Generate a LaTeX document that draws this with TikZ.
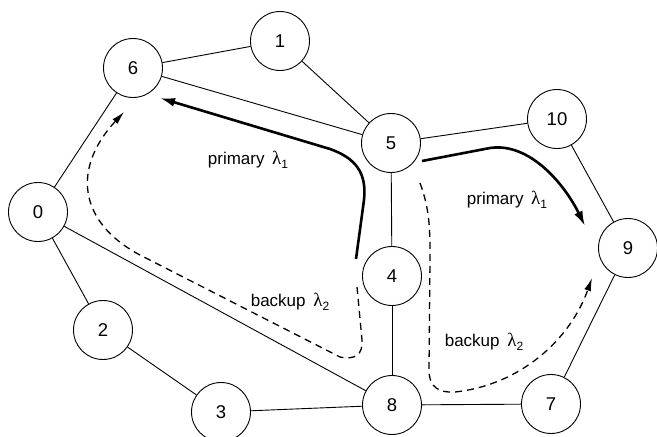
\documentclass[tikz,border=0pt]{standalone}
\usepackage{fontspec}
\setmainfont{Liberation Sans}
\newfontfamily\mylamfont{Liberation Serif}
\usetikzlibrary{arrows.meta}
\newcommand\mylam[1]{{\mylamfont\fontsize{19}{20}\selectfont λ}\raisebox{-0.45ex}{\fontsize{12}{14}\selectfont #1}}
\begin{document}
\begin{tikzpicture}[x=1pt,y=-1pt,
  nd/.style={circle,draw,line width=0.9pt,minimum size=59pt,inner sep=0pt,font=\fontsize{18.5}{20}\selectfont},
  edge/.style={line width=0.9pt},
  prim/.style={line width=2.6pt,-{Latex[length=15pt,width=9pt]}},
  bkp/.style={line width=1.3pt,dash pattern=on 7pt off 5pt,-{Latex[length=13pt,width=7pt]}},
  lbl/.style={font=\fontsize{17}{20}\selectfont}]
\useasboundingbox (0,0) rectangle (657,437);
\node[nd] (n0) at (38,212) {0};
\node[nd] (n1) at (280,41) {1};
\node[nd] (n2) at (103,330) {2};
\node[nd] (n3) at (221,412) {3};
\node[nd] (n4) at (392,276) {4};
\node[nd] (n5) at (391,143) {5};
\node[nd] (n6) at (133,68) {6};
\node[nd] (n7) at (551,404) {7};
\node[nd] (n8) at (392,405) {8};
\node[nd] (n9) at (628,248) {9};
\node[nd] (n10) at (557,119) {10};
\draw[edge] (n6) -- (n1);
\draw[edge] (n1) -- (n5);
\draw[edge] (n6) -- (n5);
\draw[edge] (n5) -- (n10);
\draw[edge] (n10) -- (n9);
\draw[edge] (n9) -- (n7);
\draw[edge] (n7) -- (n8);
\draw[edge] (n8) -- (n3);
\draw[edge] (n3) -- (n2);
\draw[edge] (n2) -- (n0);
\draw[edge] (n0) -- (n6);
\draw[edge] (n0) -- (n8);
\draw[edge] (n5) -- (n4);
\draw[edge] (n4) -- (n8);
% primary left
\coordinate (pa) at (356,259);
\coordinate (pb) at (160,98);
\draw[prim] (pa) -- (364,200) .. controls (367,172) and (355,158) .. (330,149) -- (pb);
% primary right
\coordinate (pc) at (422,161);
\coordinate (pd) at (585,226);
\draw[prim] (pc) -- (490,148) .. controls (530,142) and (565,185) .. (pd);
% backup left
\coordinate (ba) at (357,287);
\coordinate (bb) at (124,112);
\draw[bkp] (ba) -- (362,340) .. controls (363,355) and (355,360) .. (340,357) -- (140,255) .. controls (78,222) and (72,168) .. (bb);
% backup right
\coordinate (bc) at (420,183);
\coordinate (bd) at (592,278);
\draw[bkp] (bc) .. controls (430,210) and (430,230) .. (430,260) -- (429,370) .. controls (429,388) and (440,393) .. (455,392) .. controls (520,385) and (570,340) .. (bd);
\node[lbl] (l1) at (248,160) {primary\hspace{0.45em}\mylam{1}};
\node[lbl] (l2) at (507,200) {primary\hspace{0.45em}\mylam{1}};
\node[lbl] (l3) at (290,302) {backup\hspace{0.45em}\mylam{2}};
\node[lbl] (l4) at (484,342) {backup\hspace{0.45em}\mylam{2}};
\end{tikzpicture}
\end{document}
